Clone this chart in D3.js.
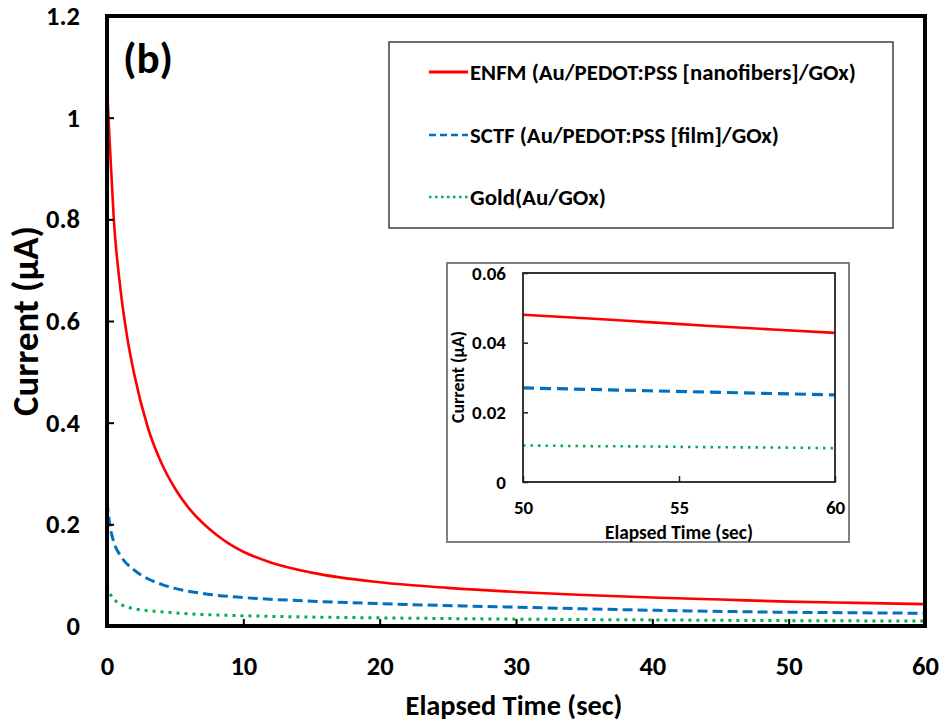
<!DOCTYPE html>
<html><head><meta charset="utf-8">
<script src="https://cdn.jsdelivr.net/npm/d3@7"></script>
<style>
html,body{margin:0;padding:0;background:#fff;}
svg{display:block;}
text{font-family:Carlito, Lato, "Open Sans", sans-serif;font-weight:700;fill:#000;}
</style></head>
<body>
<svg id="c" width="942" height="723"></svg>
<script>
// ---------- data ----------
const seriesNames = ["ENFM (Au/PEDOT:PSS [nanofibers]/GOx)", "SCTF (Au/PEDOT:PSS [film]/GOx)", "Gold(Au/GOx)"];
const enfmTime = [0,0.2,0.5,1,1.5,2,3,4,5,6,7,8,9,10,12,15,20,25,30,35,40,45,50,55,60];
const enfmCurrent = [1.06,0.95,0.8,0.66,0.565,0.495,0.39,0.32,0.27,0.232,0.203,0.18,0.161,0.146,0.125,0.105,0.086,0.075,0.067,0.061,0.056,0.052,0.048,0.0455,0.043];
const sctfTime = [0,0.2,0.5,1,2,3,4,5,7,10,14,20,30,40,50,55,60];
const sctfCurrent = [0.245,0.2,0.165,0.138,0.11,0.093,0.082,0.074,0.064,0.056,0.05,0.044,0.037,0.031,0.027,0.026,0.025];
const goldTime = [0,0.3,0.7,1.2,2,4,6,9,14,20,30,40,50,55,60];
const goldCurrent = [0.078,0.06,0.048,0.04,0.034,0.028,0.024,0.021,0.018,0.016,0.0135,0.012,0.0105,0.0101,0.0097];
const insetTime = [50,52,54,56,58,60];
const insetEnfm = [0.048,0.047,0.0459,0.0448,0.0438,0.0428];
const insetSctf = [0.027,0.0266,0.0262,0.0258,0.0254,0.025];
const insetGold = [0.0105,0.0103,0.0102,0.0100,0.0099,0.0097];
const xTicks = [0,10,20,30,40,50,60];
const yTicks = [0,0.2,0.4,0.6,0.8,1,1.2];
const insetXTicks = [50,55,60];
const insetYTicks = [0,0.02,0.04,0.06];
const xTitle = "Elapsed Time (sec)";
const yTitle = "Current (µA)";
const panelLabel = "(b)";

// ---------- styles ----------
const colors = ["#ff0000", "#0070c0", "#00b050"];
const dashes = [null, "10,5", "3,5"];
const widths = [2.6, 3, 3];

const svg = d3.select("#c");

function fitWidth(sel, target){
  const w = sel.node().getComputedTextLength();
  const fs = parseFloat(sel.attr("font-size"));
  const nf = fs*target/w;
  sel.attr("font-size", nf);
  return nf;
}
function sizeFor(str, target){
  const t = svg.append("text").attr("font-size",20).text(str);
  const w = t.node().getComputedTextLength();
  t.remove();
  return 20*target/w;
}

// ---------- main chart ----------
const x = d3.scaleLinear().domain([0,60]).range([107,925]);
const y = d3.scaleLinear().domain([0,1.2]).range([626,16]);

const line = d3.line().x(d=>x(d[0])).y(d=>y(d[1])).curve(d3.curveMonotoneX);
const mainSeries = [
  d3.zip(enfmTime, enfmCurrent),
  d3.zip(sctfTime, sctfCurrent),
  d3.zip(goldTime, goldCurrent)
];
[2,1,0].forEach(i=>{
  svg.append("path").attr("d", line(mainSeries[i]))
    .attr("fill","none").attr("stroke",colors[i]).attr("stroke-width",widths[i])
    .attr("stroke-dasharray",dashes[i]);
});

const tickFs = sizeFor("1.2", 34);

const xAxis = svg.append("g").attr("transform","translate(0,626)")
  .call(d3.axisBottom(x).tickValues(xTicks).tickSizeInner(-7).tickSizeOuter(0).tickFormat(d3.format("d")));
xAxis.select(".domain").remove();
xAxis.selectAll("line").attr("stroke","#000").attr("stroke-width",2);
xAxis.selectAll("text").attr("y",40).attr("dy","0.35em").attr("font-size",tickFs).attr("font-family",null);

const yAxis = svg.append("g").attr("transform","translate(107,0)")
  .call(d3.axisLeft(y).tickValues(yTicks).tickSizeInner(-7).tickSizeOuter(0).tickPadding(27).tickFormat(d=>d3.format("~g")(d)));
yAxis.select(".domain").remove();
yAxis.selectAll("line").attr("stroke","#000").attr("stroke-width",2);
yAxis.selectAll("text").attr("font-size",tickFs).attr("font-family",null);

// frame
svg.append("rect").attr("x",x(0)).attr("y",y(1.2)).attr("width",x(60)-x(0)).attr("height",y(0)-y(1.2))
  .attr("fill","none").attr("stroke","#000").attr("stroke-width",4);

// titles
const xt = svg.append("text").attr("x",514).attr("y",705).attr("dy","0.35em").attr("text-anchor","middle")
  .attr("font-size",22).text(xTitle);
fitWidth(xt, 217);
const yt = svg.append("text").attr("transform","translate(25,321) rotate(-90)").attr("dy","0.35em")
  .attr("text-anchor","middle").attr("font-size",22).text(yTitle);
fitWidth(yt, 190);

const pl = svg.append("text").attr("x",123).attr("y",58).attr("dy","0.35em").attr("font-size",40).text(panelLabel);
fitWidth(pl, 50);

// ---------- legend ----------
svg.append("rect").attr("x",389).attr("y",42).attr("width",504).attr("height",186)
  .attr("fill","#fff").attr("stroke","#404040").attr("stroke-width",1.5);
const legRows = [72,135,197];
const legTargets = [386, 309, 136];
seriesNames.forEach((n,i)=>{
  svg.append("line").attr("x1",429).attr("x2",468).attr("y1",legRows[i]).attr("y2",legRows[i])
    .attr("stroke",colors[i]).attr("stroke-width",i===0?3:2.6).attr("stroke-dasharray",i===0?null:(i===1?"7,4":"2.5,3.5"));
  const t = svg.append("text").attr("x",470).attr("y",legRows[i]).attr("dy","0.35em").attr("font-size",18).text(n);
  fitWidth(t, legTargets[i]);
});

// ---------- inset ----------
svg.append("rect").attr("x",447).attr("y",263).attr("width",402).attr("height",279)
  .attr("fill","#fff").attr("stroke","#7f7f7f").attr("stroke-width",2);
const ix = d3.scaleLinear().domain([50,60]).range([523,835]);
const iy = d3.scaleLinear().domain([0,0.06]).range([482,273]);
const iline = d3.line().x(d=>ix(d[0])).y(d=>iy(d[1])).curve(d3.curveMonotoneX);
const insetSeries = [d3.zip(insetTime,insetEnfm), d3.zip(insetTime,insetSctf), d3.zip(insetTime,insetGold)];
[2,1,0].forEach(i=>{
  svg.append("path").attr("d", iline(insetSeries[i]))
    .attr("fill","none").attr("stroke",colors[i]).attr("stroke-width",i===0?2.6:(i===1?3.2:2.6))
    .attr("stroke-dasharray",i===0?null:(i===1?"11,6":"2.5,5"));
});
const iFs = sizeFor("0.06", 34);
const ixAxis = svg.append("g").attr("transform","translate(0,482)")
  .call(d3.axisBottom(ix).tickValues(insetXTicks).tickSizeInner(-6).tickSizeOuter(0).tickFormat(d3.format("d")));
ixAxis.select(".domain").remove();
ixAxis.selectAll("line").attr("stroke","#222").attr("stroke-width",1.5);
ixAxis.selectAll("text").attr("y",25).attr("dy","0.35em").attr("font-size",iFs).attr("font-family",null);
const iyAxis = svg.append("g").attr("transform","translate(523,0)")
  .call(d3.axisLeft(iy).tickValues(insetYTicks).tickSizeInner(-5).tickSizeOuter(0).tickPadding(17).tickFormat(d=>d===0?"0":d3.format(".2f")(d)));
iyAxis.select(".domain").remove();
iyAxis.selectAll("line").attr("stroke","#222").attr("stroke-width",1.5);
iyAxis.selectAll("text").attr("font-size",iFs).attr("font-family",null);
svg.append("rect").attr("x",ix(50)).attr("y",iy(0.06)).attr("width",ix(60)-ix(50)).attr("height",iy(0)-iy(0.06))
  .attr("fill","none").attr("stroke","#222").attr("stroke-width",1.8);
const ixt = svg.append("text").attr("x",679).attr("y",532).attr("dy","0.35em").attr("text-anchor","middle")
  .attr("font-size",14).text(xTitle);
fitWidth(ixt, 148);
const iyt = svg.append("text").attr("transform","translate(458,377) rotate(-90)").attr("dy","0.35em")
  .attr("text-anchor","middle").attr("font-size",14).text(yTitle);
fitWidth(iyt, 92);
</script>
</body></html>
